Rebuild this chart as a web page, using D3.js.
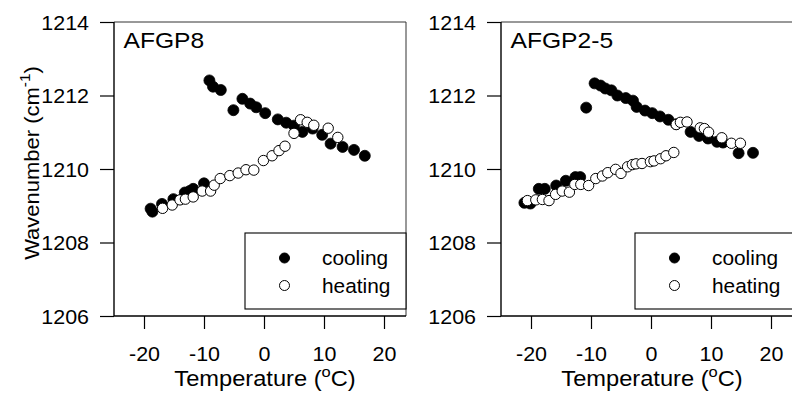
<!DOCTYPE html>
<html>
<head>
<meta charset="utf-8">
<script src="https://cdn.jsdelivr.net/npm/d3@7"></script>
<style>
  body { margin: 0; background: #fff; }
  svg { display: block; font-family: "Liberation Sans", Arial, Helvetica, sans-serif; }
</style>
</head>
<body>
<svg id="chart" width="792" height="393"></svg>
<script>
// ---- Data ----
const panelNames = ["AFGP8", "AFGP2-5"];
const seriesNames = ["cooling", "heating"];
const xTicks = [-20, -10, 0, 10, 20];
const yTicks = [1206, 1208, 1210, 1212, 1214];

// AFGP8
const afgp8CoolingT = [-18.9, -18.6, -17.0, -15.1, -13.2, -12.4, -11.8, -10.0,
  -9.1, -8.5, -7.2, -5.1, -3.6, -2.3, -1.3, 0.2, 2.3, 3.7, 5.0, 6.4, 8.1, 9.7, 11.1, 13.1, 15.0, 16.8];
const afgp8CoolingW = [1208.92, 1208.84, 1209.05, 1209.18, 1209.36, 1209.40, 1209.46, 1209.61,
  1212.41, 1212.24, 1212.15, 1211.60, 1211.91, 1211.78, 1211.68, 1211.52, 1211.35, 1211.26, 1211.18, 1211.01, 1211.10, 1210.93, 1210.69, 1210.60, 1210.52, 1210.36];
const afgp8HeatingT = [-16.9, -15.3, -14.0, -13.1, -11.8, -10.3, -8.9, -8.3, -7.3, -5.7, -4.3, -3.0, -1.7, -0.1, 1.35, 2.5, 3.5, 5.0, 6.1, 7.2, 8.3, 10.7, 12.3];
const afgp8HeatingW = [1208.93, 1209.02, 1209.16, 1209.18, 1209.24, 1209.40, 1209.40, 1209.56, 1209.74, 1209.82, 1209.89, 1209.98, 1209.97, 1210.23, 1210.36, 1210.50, 1210.62, 1210.97, 1211.34, 1211.27, 1211.19, 1211.11, 1210.86];

// AFGP2-5
const afgp25CoolingT = [-21.1, -20.1, -18.7, -17.7, -15.8, -14.2, -12.6, -11.8,
  -10.8, -9.4, -8.4, -7.6, -6.6, -5.6, -4.2, -3.0, -2.4, -1.0, 0.2, 1.5, 2.9, 4.2, 6.6, 8.0, 9.5, 11.0, 12.0, 14.6, 17.0];
const afgp25CoolingW = [1209.08, 1209.06, 1209.46, 1209.46, 1209.55, 1209.68, 1209.78, 1209.78,
  1211.67, 1212.33, 1212.27, 1212.19, 1212.14, 1212.00, 1211.93, 1211.86, 1211.69, 1211.59, 1211.52, 1211.43, 1211.34, 1211.22, 1211.01, 1210.90, 1210.83, 1210.74, 1210.72, 1210.43, 1210.44];
const afgp25HeatingT = [-20.6, -19.2, -18.1, -17.0, -15.9, -14.8, -13.6, -12.7, -11.7, -10.4, -9.2, -8.1, -7.2, -5.9, -5.0, -3.9, -3.1, -2.5, -1.5, -0.1, 0.5, 1.6, 2.5, 3.8,
  4.2, 4.9, 6.0, 8.2, 8.9, 9.6, 11.8, 13.4, 14.9];
const afgp25HeatingW = [1209.14, 1209.16, 1209.17, 1209.14, 1209.31, 1209.40, 1209.37, 1209.58, 1209.58, 1209.55, 1209.74, 1209.81, 1209.90, 1209.99, 1209.88, 1210.06, 1210.12, 1210.14, 1210.15, 1210.20, 1210.22, 1210.28, 1210.36, 1210.45,
  1211.21, 1211.27, 1211.28, 1211.12, 1211.10, 1211.00, 1210.85, 1210.70, 1210.70];

const panels = [
  { name: panelNames[0], cooling: d3.zip(afgp8CoolingT, afgp8CoolingW), heating: d3.zip(afgp8HeatingT, afgp8HeatingW) },
  { name: panelNames[1], cooling: d3.zip(afgp25CoolingT, afgp25CoolingW), heating: d3.zip(afgp25HeatingT, afgp25HeatingW) }
];

// ---- Layout ----
const svg = d3.select("#chart");
const PW = 292, PH = 294, topY = 22;
const lefts = [114, 501];
const legendX = [131, 134];
const xDomain = [-25, -25 + PW / 6];
const yDomain = [1206, 1214];
const R = 5.5;
const SX = 1.1; // horizontal stretch of the original typeface

function stretch(sel, f) {
  sel.each(function () {
    const t = d3.select(this);
    const ax = +t.attr("x") || 0;
    t.attr("transform", `translate(${ax},0) scale(${f},1) translate(${-ax},0)`);
  });
}

panels.forEach((p, i) => {
  const g = svg.append("g").attr("transform", `translate(${lefts[i]},${topY})`);
  const x = d3.scaleLinear().domain(xDomain).range([0, PW]);
  const y = d3.scaleLinear().domain(yDomain).range([PH, 0]);

  // frame (top & right)
  g.append("line").attr("x1", 0).attr("x2", PW).attr("y1", 0).attr("y2", 0)
    .attr("stroke", "#333").attr("stroke-width", 1);
  g.append("line").attr("x1", PW).attr("x2", PW).attr("y1", 0).attr("y2", PH)
    .attr("stroke", "#333").attr("stroke-width", 1);

  // axes
  const xAxis = g.append("g").attr("transform", `translate(0,${PH})`)
    .call(d3.axisBottom(x).tickValues(xTicks).tickSize(13).tickPadding(18).tickFormat(d => String(d)));
  const yAxis = g.append("g")
    .call(d3.axisLeft(y).tickValues(yTicks).tickSize(14).tickPadding(11).tickFormat(d => String(d)));
  [xAxis, yAxis].forEach(a => {
    a.select(".domain").attr("stroke", "#000").attr("stroke-width", 1.4);
    a.selectAll(".tick line").attr("stroke", "#000").attr("stroke-width", 1.2);
    a.selectAll(".tick text").attr("fill", "#000").attr("font-size", 19.5)
      .attr("font-family", "'Liberation Sans', Arial, sans-serif");
  });
  xAxis.select(".domain").attr("d", `M0,0H${PW}`);
  yAxis.select(".domain").attr("d", `M0,${PH}V0`);
  xAxis.selectAll(".tick text").attr("dy", "0.71em");
  yAxis.selectAll(".tick text").attr("dy", "0.36em");
  stretch(xAxis.selectAll(".tick text"), SX);
  stretch(yAxis.selectAll(".tick text"), SX);

  // x axis title
  const xtg = g.append("g").attr("transform", `translate(${x(0) + 1},${PH + 70}) scale(${SX},1)`);
  const xt = xtg.append("text").attr("text-anchor", "middle").attr("font-size", 21.5).attr("fill", "#000");
  xt.append("tspan").text("Temperature (");
  xt.append("tspan").attr("dy", -9.5).attr("font-size", 15).text("o");
  xt.append("tspan").attr("dy", 9.5).text("C)");

  if (i === 0) {
    const ytg = svg.append("g").attr("transform", `translate(39,163) rotate(-90) scale(${SX},1)`);
    const yt = ytg.append("text").attr("text-anchor", "middle").attr("font-size", 20).attr("fill", "#000");
    yt.append("tspan").text("Wavenumber (cm");
    yt.append("tspan").attr("dy", -9).attr("font-size", 14).text("-1");
    yt.append("tspan").attr("dy", 9).text(")");
  }

  // panel label
  const lab = g.append("text").attr("x", 9.5).attr("y", 26.5).attr("font-size", 22).attr("fill", "#000").text(p.name);
  stretch(lab, 1.12);

  // points
  g.append("g").selectAll("circle").data(p.cooling).join("circle")
    .attr("cx", d => x(d[0])).attr("cy", d => y(d[1])).attr("r", R)
    .attr("fill", "#000").attr("stroke", "#000").attr("stroke-width", 0.8);
  g.append("g").selectAll("circle").data(p.heating).join("circle")
    .attr("cx", d => x(d[0])).attr("cy", d => y(d[1])).attr("r", R - 0.3)
    .attr("fill", "#fff").attr("stroke", "#000").attr("stroke-width", 1);

  // legend
  const lw = 161, lh = 76;
  const lg = g.append("g").attr("transform", `translate(${legendX[i]},211)`);
  lg.append("rect").attr("width", lw).attr("height", lh)
    .attr("fill", "#fff").attr("stroke", "#000").attr("stroke-width", 1.1);
  seriesNames.forEach((s, k) => {
    const cy = 25 + k * 27.5;
    lg.append("circle").attr("cx", 39.5).attr("cy", cy).attr("r", 5)
      .attr("fill", k === 0 ? "#000" : "#fff").attr("stroke", "#000").attr("stroke-width", 1);
    const t = lg.append("text").attr("x", 77).attr("y", cy).attr("dy", "0.36em")
      .attr("font-size", 19.5).attr("fill", "#000").text(s);
    stretch(t, 1.07);
  });
});
</script>
</body>
</html>
